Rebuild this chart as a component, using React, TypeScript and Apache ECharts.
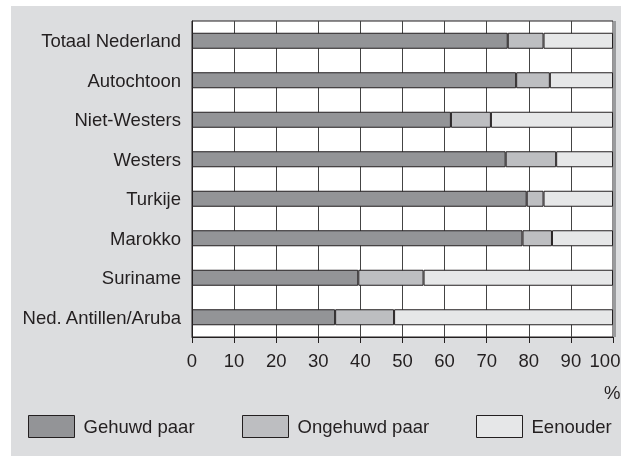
import React, { useEffect, useRef } from "react";
import * as echarts from "echarts";

const categories = [
  "Totaal Nederland",
  "Autochtoon",
  "Niet-Westers",
  "Westers",
  "Turkije",
  "Marokko",
  "Suriname",
  "Ned. Antillen/Aruba",
];
const gehuwd = [75, 77, 61.5, 74.5, 79.5, 78.5, 39.5, 34];
const ongehuwd = [8.5, 8, 9.5, 12, 4, 7, 15.5, 14];
const eenouder = [16.5, 15, 29, 13.5, 16.5, 14.5, 45, 52];
const seriesNames = ["Gehuwd paar", "Ongehuwd paar", "Eenouder"];
const xTicks = { min: 0, max: 100, interval: 10 };

const FONT = "'Liberation Sans', Arial, Helvetica, sans-serif";
const FS = 18.5;
const TEXT = "#231f20";
const EDGE = "#231f20";
const colors = ["#939497", "#bdbec1", "#e6e7e8"];

export default function App() {
  const ref = useRef<HTMLDivElement>(null);
  useEffect(() => {
    if (!ref.current) return;
    const chart = echarts.init(ref.current, undefined, { renderer: "svg" });
    const values = [gehuwd, ongehuwd, eenouder];
    const legendLefts = [28, 242, 476];
    chart.setOption({
      animation: false,
      textStyle: { fontFamily: FONT },
      graphic: [
        {
          type: "rect",
          z: -10,
          silent: true,
          shape: { x: 11, y: 6, width: 620, height: 460 },
          style: { fill: "#dcdddf" },
        },
        {
          type: "rect",
          z: 1,
          silent: true,
          shape: { x: 613, y: 21, width: 3, height: 316 },
          style: { fill: "#9a9b9d" },
        },
        {
          type: "text",
          x: 604,
          y: 392,
          style: {
            text: "%",
            font: `${FS}px ${FONT}`,
            fill: TEXT,
            textVerticalAlign: "middle",
          },
        },
      ],
      legend: seriesNames.map((name, i) => ({
        data: [name],
        left: legendLefts[i],
        top: 415,
        padding: 0,
        itemWidth: 46,
        itemHeight: 22,
        icon: "rect",
        itemStyle: { borderColor: EDGE, borderWidth: 1 },
        textStyle: {
          fontSize: FS,
          color: TEXT,
          fontFamily: FONT,
          padding: [0, 0, 0, 4],
        },
        selectedMode: false,
      })),
      grid: {
        left: 192,
        top: 21,
        width: 421,
        height: 316,
        outerBoundsMode: "none",
        containLabel: false,
        show: true,
        backgroundColor: "#ffffff",
        borderColor: EDGE,
        borderWidth: 1,
      },
      xAxis: {
        type: "value",
        min: xTicks.min,
        max: xTicks.max,
        interval: xTicks.interval,
        axisLine: { show: true, lineStyle: { color: EDGE, width: 1 } },
        axisTick: { show: true, length: 6, lineStyle: { color: EDGE } },
        axisLabel: {
          fontSize: FS,
          color: TEXT,
          margin: 14,
          fontFamily: FONT,
          formatter: (v: number) => (v === xTicks.max ? `{m|${v}}` : `${v}`),
          rich: {
            m: {
              fontSize: FS,
              color: TEXT,
              fontFamily: FONT,
              padding: [0, 16, 0, 0],
            },
          },
        },
        splitLine: { show: true, lineStyle: { color: "#444", width: 1 } },
      },
      yAxis: {
        type: "category",
        data: categories,
        inverse: true,
        axisLine: { show: true, lineStyle: { color: EDGE, width: 1 } },
        axisTick: { show: false },
        axisLabel: { fontSize: FS, color: TEXT, margin: 11, fontFamily: FONT },
        splitLine: { show: false },
      },
      series: seriesNames.map((name, i) => ({
        name,
        type: "bar",
        stack: "total",
        barWidth: 16,
        data: values[i],
        itemStyle: { color: colors[i], borderColor: EDGE, borderWidth: 1 },
      })),
    });
    return () => chart.dispose();
  }, []);
  return (
    <div
      ref={ref}
      style={{ position: "fixed", left: 0, top: 0, width: 621, height: 456 }}
    />
  );
}
